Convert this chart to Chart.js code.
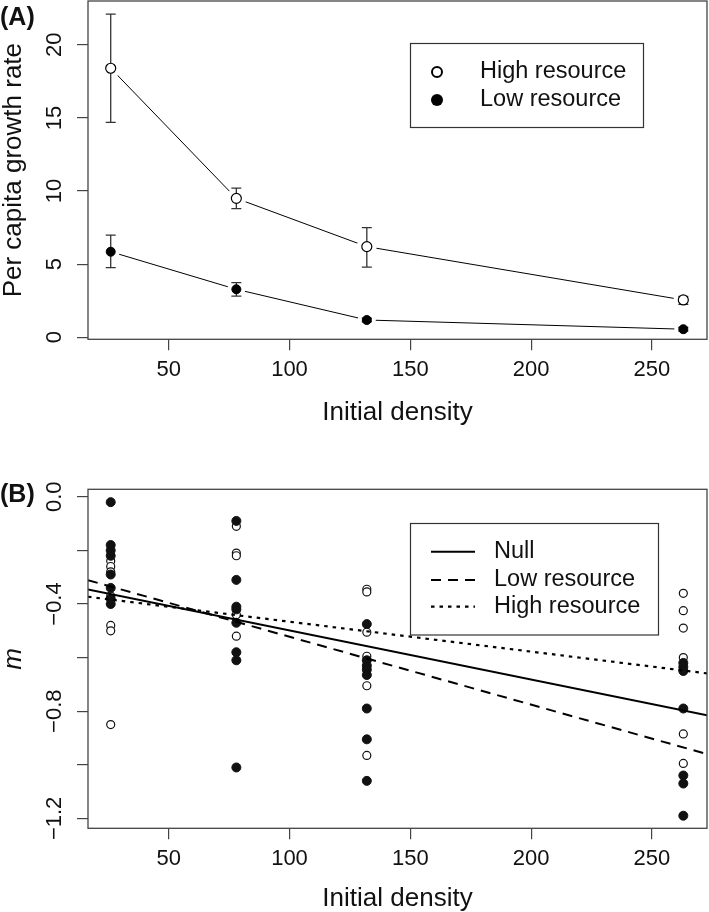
<!DOCTYPE html>
<html>
<head>
<meta charset="utf-8">
<script src="https://cdn.jsdelivr.net/npm/chart.js@4.4.1/dist/chart.umd.min.js"></script>
<style>
  html, body { margin: 0; padding: 0; background: #fff; }
  #chartA { position: absolute; left: 0; top: 0; }
  #chartB { position: absolute; left: 0; top: 450px; }
</style>
</head>
<body>
<canvas id="chartA" width="709" height="450"></canvas>
<canvas id="chartB" width="709" height="462"></canvas>
<script>
// densities used in the experiment
var densities = [26, 78, 132, 263];

// panel A: mean per capita growth rate with error bars
var highMean  = [18.4, 9.5, 6.2, 2.55];
var highUpper = [22.1, 10.2, 7.5, 2.8];
var highLower = [14.7, 8.8, 4.8, 2.25];
var lowMean   = [5.85, 3.28, 1.18, 0.55];
var lowUpper  = [6.99, 3.73, 1.3, 0.68];
var lowLower  = [4.76, 2.82, 1.06, 0.42];

// panel B: m values per density
var lowM26  = [-0.02, -0.18, -0.20, -0.22, -0.29, -0.34, -0.38, -0.40];
var highM26 = [-0.24, -0.26, -0.28, -0.37, -0.48, -0.50, -0.85];
var lowM78  = [-0.09, -0.31, -0.41, -0.42, -0.47, -0.58, -0.61, -1.01];
var highM78 = [-0.11, -0.21, -0.22, -0.44, -0.52];
var lowM132  = [-0.475, -0.61, -0.63, -0.645, -0.665, -0.79, -0.905, -1.06];
var highM132 = [-0.345, -0.355, -0.505, -0.595, -0.705, -0.965];
var lowM263  = [-0.62, -0.635, -0.65, -0.79, -1.04, -1.07, -1.19];
var highM263 = [-0.36, -0.425, -0.49, -0.60, -0.885, -0.995];

// panel B fitted lines (values at the two x-axis ends)
var lineX    = [16.6, 272.8];
var nullLine = [-0.346, -0.815];
var lowLine  = [-0.311, -0.960];
var highLine = [-0.373, -0.659];

// axes
var xTicks = [50, 100, 150, 200, 250];
var yTicksA = [0, 5, 10, 15, 20];
var yLabelsA = ['0', '5', '10', '15', '20'];
var yTicksB = [0, -0.2, -0.4, -0.6, -0.8, -1.0, -1.2];
var yLabelsB = ['0.0', '', '\u22120.4', '', '\u22120.8', '', '\u22121.2'];

var FONT = '"Liberation Sans", Arial, Helvetica, sans-serif';
Chart.defaults.font.family = FONT;
Chart.defaults.color = '#111';

function pts(xs, ys) {
  return xs.map(function (x, i) { return { x: x, y: ys[i] }; });
}
function column(x, ys) {
  return ys.map(function (y) { return { x: x, y: y }; });
}

// y tick labels parallel to the axis, like R
function yLabels(values, labels, x) {
  return {
    id: 'yLabels',
    afterDraw: function (chart) {
      var ctx = chart.ctx, ys = chart.scales.y;
      ctx.save();
      ctx.font = '22px ' + FONT;
      ctx.fillStyle = '#111';
      ctx.textAlign = 'center';
      ctx.textBaseline = 'middle';
      values.forEach(function (v, i) {
        if (!labels[i]) return;
        ctx.save();
        ctx.translate(x, ys.getPixelForValue(v));
        ctx.rotate(-Math.PI / 2);
        ctx.fillText(labels[i], 0, 0);
        ctx.restore();
      });
      ctx.restore();
    }
  };
}

// box round the plot and the panel letter
function frame(letter, baseY) {
  return {
    id: 'frame',
    afterDatasetsDraw: function (chart) {
      var ctx = chart.ctx, a = chart.chartArea;
      ctx.save();
      ctx.strokeStyle = '#444';
      ctx.lineWidth = 1.3;
      ctx.strokeRect(a.left, a.top, a.right - a.left, a.bottom - a.top);
      ctx.font = 'bold 25px ' + FONT;
      ctx.fillStyle = '#111';
      ctx.textBaseline = 'alphabetic';
      ctx.fillText(letter, 0, baseY);
      ctx.restore();
    }
  };
}

var errorBars = {
  id: 'errorBars',
  afterDatasetDraw: function (chart, args) {
    var ds = chart.data.datasets[args.index];
    if (!ds.errUpper) return;
    var xs = chart.scales.x, ys = chart.scales.y, ctx = chart.ctx;
    ctx.save();
    ctx.strokeStyle = '#333';
    ctx.lineWidth = 1.3;
    ds.data.forEach(function (p, i) {
      var px = xs.getPixelForValue(p.x);
      var top = ys.getPixelForValue(ds.errUpper[i]);
      var bot = ys.getPixelForValue(ds.errLower[i]);
      ctx.beginPath();
      ctx.moveTo(px, top); ctx.lineTo(px, bot);
      ctx.moveTo(px - 5, top); ctx.lineTo(px + 5, top);
      ctx.moveTo(px - 5, bot); ctx.lineTo(px + 5, bot);
      ctx.stroke();
    });
    ctx.restore();
  }
};

var legendA = {
  id: 'legendA',
  afterDraw: function (chart) {
    var ctx = chart.ctx;
    ctx.save();
    ctx.strokeStyle = '#333';
    ctx.lineWidth = 1.2;
    ctx.strokeRect(410.5, 43.5, 233, 84);
    ctx.font = '23.5px ' + FONT;
    ctx.fillStyle = '#111';
    ctx.textBaseline = 'middle';
    ctx.fillText('High resource', 480, 72);
    ctx.fillText('Low resource', 480, 100);
    ctx.lineWidth = 2;
    ctx.strokeStyle = '#000';
    ctx.beginPath(); ctx.arc(437, 72, 5, 0, 2 * Math.PI); ctx.stroke();
    ctx.fillStyle = '#000';
    ctx.beginPath(); ctx.arc(437, 100, 6, 0, 2 * Math.PI); ctx.fill();
    ctx.restore();
  }
};

var legendB = {
  id: 'legendB',
  afterDraw: function (chart) {
    var ctx = chart.ctx;
    var rows = [
      { ds: chart.data.datasets[2], y: 101.7 },
      { ds: chart.data.datasets[3], y: 130 },
      { ds: chart.data.datasets[4], y: 156.7 }
    ];
    ctx.save();
    ctx.strokeStyle = '#333';
    ctx.lineWidth = 1.2;
    ctx.strokeRect(410.5, 73.5, 248, 111.5);
    ctx.font = '23.5px ' + FONT;
    ctx.fillStyle = '#111';
    ctx.textBaseline = 'middle';
    rows.forEach(function (r) {
      ctx.strokeStyle = '#000';
      ctx.lineWidth = r.ds.borderWidth;
      ctx.setLineDash(r.ds.borderDash || []);
      ctx.beginPath();
      ctx.moveTo(431, r.y); ctx.lineTo(475, r.y);
      ctx.stroke();
      ctx.setLineDash([]);
      ctx.fillText(r.ds.label, 494, r.y);
    });
    ctx.restore();
  }
};

function xScale(min, max, height, titlePad) {
  return {
    type: 'linear', min: min, max: max,
    afterBuildTicks: function (s) { s.ticks = xTicks.map(function (v) { return { value: v }; }); },
    afterFit: function (s) { s.height = height; },
    grid: { drawOnChartArea: false, drawTicks: true, tickLength: 11, color: '#444', lineWidth: 1.2 },
    border: { display: false },
    ticks: { font: { size: 22 }, color: '#111', padding: 6, maxRotation: 0, autoSkip: false },
    title: { display: true, text: 'Initial density', color: '#111',
             font: { size: 26, lineHeight: 1 }, padding: { top: 0, bottom: titlePad } }
  };
}

function yScale(min, max, ticks, title, italic) {
  return {
    type: 'linear', min: min, max: max,
    afterBuildTicks: function (s) { s.ticks = ticks.map(function (v) { return { value: v }; }); },
    afterFit: function (s) { s.width = 88; },
    ticks: { display: false },
    grid: { drawOnChartArea: false, drawTicks: true, tickLength: 11, color: '#444', lineWidth: 1.2 },
    border: { display: false },
    title: { display: true, text: title, color: '#111',
             font: { size: 26, lineHeight: 1, style: italic ? 'italic' : 'normal' },
             padding: { top: 1, bottom: 0 } }
  };
}

new Chart(document.getElementById('chartA'), {
  type: 'scatter',
  data: {
    datasets: [
      { label: 'High resource', data: pts(densities, highMean), showLine: true,
        borderColor: '#000', borderWidth: 1, pointRadius: 0, order: 5 },
      { label: 'Low resource', data: pts(densities, lowMean), showLine: true,
        borderColor: '#000', borderWidth: 1, pointRadius: 0, order: 5 },
      { label: 'gap high', data: pts(densities, highMean), pointRadius: 10,
        pointBackgroundColor: '#fff', pointBorderColor: '#fff', pointBorderWidth: 0,
        order: 4, errUpper: highUpper, errLower: highLower },
      { label: 'gap low', data: pts(densities, lowMean), pointRadius: 9,
        pointBackgroundColor: '#fff', pointBorderColor: '#fff', pointBorderWidth: 0,
        order: 4, errUpper: lowUpper, errLower: lowLower },
      { label: 'High resource', data: pts(densities, highMean), pointRadius: 5,
        pointBackgroundColor: '#fff', pointBorderColor: '#000', pointBorderWidth: 1.2, order: 1 },
      { label: 'Low resource', data: pts(densities, lowMean), pointRadius: 4.5,
        pointBackgroundColor: '#000', pointBorderColor: '#000', pointBorderWidth: 1, order: 1 }
    ]
  },
  options: {
    responsive: false, animation: false, devicePixelRatio: 1,
    layout: { autoPadding: false, padding: { top: 1, right: 2, left: 0, bottom: 0 } },
    plugins: { legend: { display: false }, tooltip: { enabled: false } },
    scales: {
      x: xScale(16.6, 272.8, 110.7, 24),
      y: yScale(-0.14, 23.0, yTicksA, 'Per capita growth rate', false)
    }
  },
  plugins: [errorBars, frame('(A)', 25), yLabels(yTicksA, yLabelsA, 54.5), legendA]
});

new Chart(document.getElementById('chartB'), {
  type: 'scatter',
  data: {
    datasets: [
      { label: 'High resource', order: 3, pointRadius: 4,
        pointBackgroundColor: '#fff', pointBorderColor: '#111', pointBorderWidth: 1.2,
        data: [].concat(column(densities[0], highM26), column(densities[1], highM78),
                        column(densities[2], highM132), column(densities[3], highM263)) },
      { label: 'Low resource', order: 2, pointRadius: 4.5,
        pointBackgroundColor: '#111', pointBorderColor: '#111', pointBorderWidth: 1,
        data: [].concat(column(densities[0], lowM26), column(densities[1], lowM78),
                        column(densities[2], lowM132), column(densities[3], lowM263)) },
      { label: 'Null', data: pts(lineX, nullLine), showLine: true, pointRadius: 0,
        borderColor: '#000', borderWidth: 2, order: 1 },
      { label: 'Low resource', data: pts(lineX, lowLine), showLine: true, pointRadius: 0,
        borderColor: '#000', borderWidth: 2, borderDash: [10, 7], order: 1 },
      { label: 'High resource', data: pts(lineX, highLine), showLine: true, pointRadius: 0,
        borderColor: '#000', borderWidth: 2.2, borderDash: [3.5, 5], order: 1 }
    ]
  },
  options: {
    responsive: false, animation: false, devicePixelRatio: 1,
    layout: { autoPadding: false, padding: { top: 39.3, right: 2, left: 0, bottom: 0 } },
    plugins: { legend: { display: false }, tooltip: { enabled: false } },
    scales: {
      x: xScale(16.6, 272.8, 83.7, 0),
      y: yScale(-1.237, 0.028, yTicksB, 'm', true)
    }
  },
  plugins: [frame('(B)', 52.3), yLabels(yTicksB, yLabelsB, 54.5), legendB]
});
</script>
</body>
</html>
